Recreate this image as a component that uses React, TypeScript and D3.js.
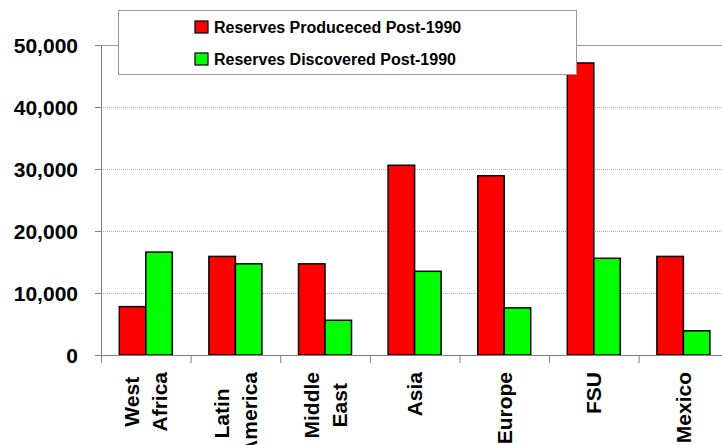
import React, { useEffect, useRef } from "react";
import * as d3 from "d3";

const regions = ["West Africa", "Latin America", "Middle East", "Asia", "Europe", "FSU", "Mexico"];
const regionLines = [["West", "Africa"], ["Latin", "America"], ["Middle", "East"], ["Asia"], ["Europe"], ["FSU"], ["Mexico"]];
const produced = [7800, 15900, 14700, 30600, 28900, 47100, 15900];
const discovered = [16600, 14700, 5600, 13500, 7600, 15600, 3900];
const yTicks = [0, 10000, 20000, 30000, 40000, 50000];
const seriesNames = ["Reserves Produceced Post-1990", "Reserves Discovered Post-1990"];
const seriesColors = ["#ff0000", "#00ff00"];

const W = 722;
const H = 445;
const FONT = "Liberation Sans, Arial, sans-serif";

export default function App() {
  const ref = useRef<SVGSVGElement>(null);

  useEffect(() => {
    const svg = d3.select(ref.current);
    svg.selectAll("*").remove();

    const left = 101;
    const band = 89.6;
    const x0 = d3.scaleBand().domain(regions).range([left, left + band * regions.length]);
    const x1 = d3.scaleBand().domain(["p", "d"]).range([18.3, 71.3]);
    const y = d3.scaleLinear().domain([0, 50000]).range([355, 45]);

    // gridlines
    svg
      .append("g")
      .selectAll("line")
      .data(yTicks.filter((t) => t > 0 && t < 50000))
      .enter()
      .append("line")
      .attr("x1", left)
      .attr("x2", W)
      .attr("y1", (d) => y(d) + 0.5)
      .attr("y2", (d) => y(d) + 0.5)
      .attr("stroke", "#b0b0b0")
      .attr("stroke-width", 1)
      .attr("stroke-dasharray", "1,1");

    // top border
    svg
      .append("line")
      .attr("x1", 95)
      .attr("x2", W)
      .attr("y1", y(50000) + 0.5)
      .attr("y2", y(50000) + 0.5)
      .attr("stroke", "#999");

    // y axis
    const yAxis = svg.append("g");
    yAxis
      .append("line")
      .attr("x1", left + 0.5)
      .attr("x2", left + 0.5)
      .attr("y1", y(50000))
      .attr("y2", y(0))
      .attr("stroke", "#808080");
    yAxis
      .selectAll(".tick")
      .data(yTicks)
      .enter()
      .append("line")
      .attr("x1", 95)
      .attr("x2", left)
      .attr("y1", (d) => y(d) + 0.5)
      .attr("y2", (d) => y(d) + 0.5)
      .attr("stroke", "#808080");
    yAxis
      .selectAll("text")
      .data(yTicks)
      .enter()
      .append("text")
      .attr("x", 78)
      .attr("y", (d) => y(d) + 8)
      .attr("text-anchor", "end")
      .attr("font-family", FONT)
      .attr("font-weight", "bold")
      .attr("font-size", 21)
      .attr("fill", "#000")
      .text((d) => d3.format(",")(d));

    // bars
    const groups = svg
      .append("g")
      .selectAll("g")
      .data(regions)
      .enter()
      .append("g")
      .attr("transform", (d) => `translate(${x0(d)},0)`);
    groups
      .append("rect")
      .attr("x", x1("p")!)
      .attr("width", x1.bandwidth())
      .attr("y", (_, i) => y(produced[i]))
      .attr("height", (_, i) => y(0) - y(produced[i]))
      .attr("fill", seriesColors[0])
      .attr("stroke", "#000")
      .attr("stroke-width", 1.5);
    groups
      .append("rect")
      .attr("x", x1("d")!)
      .attr("width", x1.bandwidth())
      .attr("y", (_, i) => y(discovered[i]))
      .attr("height", (_, i) => y(0) - y(discovered[i]))
      .attr("fill", seriesColors[1])
      .attr("stroke", "#000")
      .attr("stroke-width", 1.5);

    // x axis
    const xAxis = svg.append("g");
    xAxis
      .append("line")
      .attr("x1", left)
      .attr("x2", W)
      .attr("y1", y(0) + 0.5)
      .attr("y2", y(0) + 0.5)
      .attr("stroke", "#808080");
    xAxis
      .selectAll(".tick")
      .data(regions)
      .enter()
      .append("line")
      .attr("x1", (d) => x0(d)! + 0.5)
      .attr("x2", (d) => x0(d)! + 0.5)
      .attr("y1", y(0))
      .attr("y2", y(0) + 8)
      .attr("stroke", "#808080");

    // rotated category labels
    const top = 372;
    const capHalf = 7.5;
    const lineGap = 28;
    regions.forEach((r, i) => {
      const lines = regionLines[i];
      const cx = x0(r)! + x0.bandwidth() / 2;
      const texts = lines.map((ln, j) => {
        const off = (j - (lines.length - 1) / 2) * lineGap;
        return svg
          .append("text")
          .attr("transform", "rotate(-90)")
          .attr("y", cx + off + capHalf)
          .attr("text-anchor", "middle")
          .attr("font-family", FONT)
          .attr("font-weight", "bold")
          .attr("font-size", 21)
          .attr("fill", "#000")
          .text(ln);
      });
      const maxW = d3.max(texts, (t) => (t.node() as SVGTextElement).getComputedTextLength()) || 0;
      texts.forEach((t) => t.attr("x", -(top + maxW / 2)));
    });

    // legend
    const lg = svg.append("g");
    lg.append("rect")
      .attr("x", 118.5)
      .attr("y", 10.5)
      .attr("width", 458)
      .attr("height", 64)
      .attr("fill", "#fff")
      .attr("stroke", "#999");
    seriesNames.forEach((name, i) => {
      const ly = 21 + i * 32;
      lg.append("rect")
        .attr("x", 195)
        .attr("y", ly)
        .attr("width", 13)
        .attr("height", 12)
        .attr("fill", seriesColors[i])
        .attr("stroke", "#000")
        .attr("stroke-width", 1.2);
      lg.append("text")
        .attr("x", 214)
        .attr("y", ly + 11.5)
        .attr("font-family", FONT)
        .attr("font-weight", "bold")
        .attr("font-size", 16)
        .attr("fill", "#000")
        .text(name);
    });
  }, []);

  return (
    <svg
      ref={ref}
      width={W}
      height={H}
      style={{ position: "absolute", left: 0, top: 0, background: "#fff" }}
    />
  );
}
